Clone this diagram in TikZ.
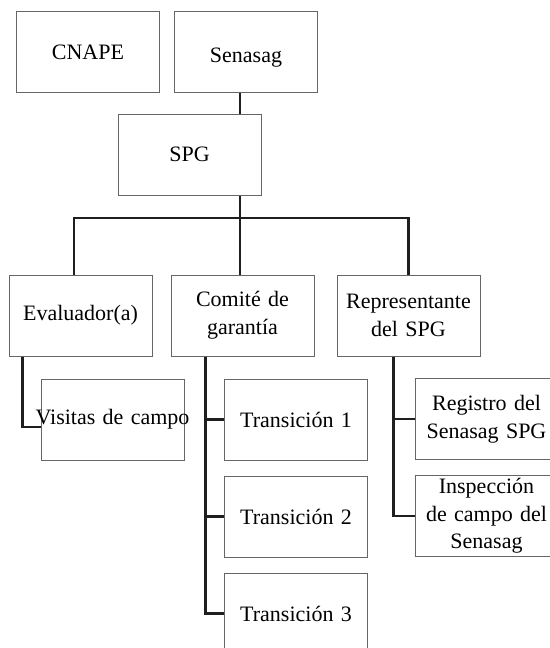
\documentclass[tikz,border=0pt]{standalone}
\usepackage{fontspec}
\setmainfont{Liberation Serif}
\usetikzlibrary{calc}

\begin{document}
\begin{tikzpicture}[
  x=0.5pt,y=-0.5pt,
  every node/.style={font=\fontsize{11}{13.8}\selectfont},
  unitbox/.style={draw=black!60,line width=0.5pt,minimum width=71.5pt,minimum height=40.5pt,text width=71.5pt,inner sep=0pt,align=center},
  link/.style={draw=black!88,line width=1.1pt},
]
\useasboundingbox (0,0) rectangle (550,648);
\clip (0,0) rectangle (550,648);

\node[unitbox] (cnape) at (88,52) {CNAPE};
\node[unitbox] (senasag) at (246,52) {\raisebox{-3pt}[\height][\depth]{Senasag}};
\node[unitbox] (spg) at (189.5,154.5) {SPG};

\node[unitbox] (evaluador) at (80.5,315.5) {Evaluador(a)};
\node[unitbox] (comite) at (242.5,315.5) {Comité de\\garantía};
\node[unitbox] (representante) at (408.5,315.5) {Representante\\del SPG};

\node[unitbox] (visitas) at (112.5,419.5) {\makebox[71.5pt]{Visitas de campo}};
\node[unitbox] (trans1) at (296,419.5) {Transición 1};
\node[unitbox] (trans2) at (296,516.5) {Transición 2};
\node[unitbox] (trans3) at (296,613.5) {Transición 3};
\node[unitbox] (registro) at (486.5,419) {Registro del\\Senasag SPG};
\node[unitbox] (inspeccion) at (486.5,516) {Inspección\\de campo del\\Senasag};

\coordinate (trunk) at (240,218);
\draw[link] (senasag.south -| trunk) -- (spg.north -| trunk);
\draw[link] (spg.south -| trunk) -- (comite.north -| trunk);
\draw[link] ([xshift=-3.25pt]evaluador.north) |- (trunk) -| (representante.north);

\draw[link] ([xshift=7pt]evaluador.south west) |- ([yshift=-3.75pt]visitas.west);
\coordinate (comline) at ([xshift=17.5pt]comite.south west);
\draw[link] (comline) |- (trans3.west);
\foreach \t in {trans1,trans2}
  \draw[link] (\t.west -| comline) -- (\t.west);
\coordinate (repline) at ([xshift=28.5pt]representante.south west);
\draw[link] (repline) |- (inspeccion.west);
\draw[link] (registro.west -| repline) -- (registro.west);
\end{tikzpicture}
\end{document}
